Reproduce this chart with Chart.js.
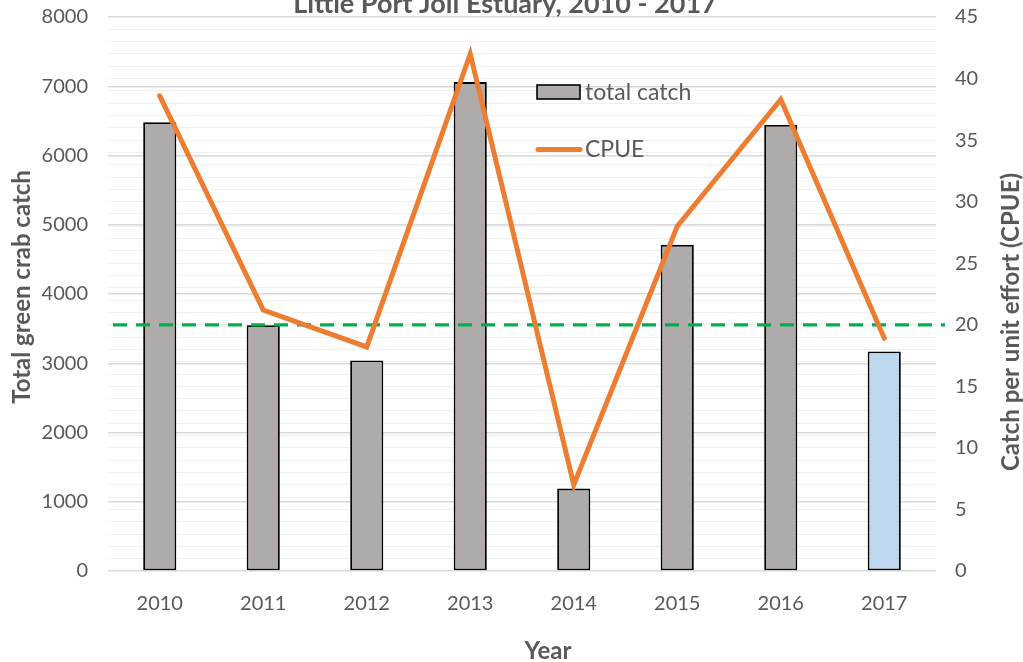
<!DOCTYPE html>
<html>
<head>
<meta charset="utf-8">
<script src="https://cdn.jsdelivr.net/npm/chart.js@4.4.1/dist/chart.umd.min.js"></script>
<style>
  html, body { margin: 0; padding: 0; background: #fff; }
  #wrap { width: 1023px; height: 662px; }
</style>
</head>
<body>
<div id="wrap"><canvas id="chart" width="1023" height="662"></canvas></div>
<script>
// data
const years = ['2010', '2011', '2012', '2013', '2014', '2015', '2016', '2017'];
const totalCatch = [6480, 3550, 3040, 7060, 1190, 4710, 6440, 3170];
const cpue = [38.6, 21.2, 18.2, 42.0, 7.0, 28.0, 38.3, 18.9];
const cpueThreshold = 20;
const catchTicks = [0, 8000, 1000];   // min, max, step
const cpueTicks = [0, 45, 5];

const FONT = "Lato, 'Open Sans', sans-serif";
const TEXT = '#595959';
const barColors = years.map((y, i) => i === years.length - 1 ? '#BDD7EE' : '#AFABAB');

// green dashed reference line, drawn after the bars but under the CPUE line
const thresholdLine = {
  id: 'thresholdLine',
  afterDatasetDraw(chart, args) {
    if (args.index !== 0) return;
    const ctx = chart.ctx;
    const area = chart.chartArea;
    const y = chart.scales.y1.getPixelForValue(cpueThreshold);
    ctx.save();
    ctx.strokeStyle = '#00B050';
    ctx.lineWidth = 3.2;
    ctx.setLineDash([14, 9]);
    ctx.beginPath();
    ctx.moveTo(area.left + 5, y);
    ctx.lineTo(area.right + 9, y);
    ctx.stroke();
    ctx.restore();
  }
};

// titles and the legend that sits inside the plot
const labelsPlugin = {
  id: 'labelsPlugin',
  afterDraw(chart) {
    const ctx = chart.ctx;
    const ds = chart.data.datasets;
    ctx.save();
    ctx.fillStyle = TEXT;

    ctx.font = 'bold 27px ' + FONT;
    ctx.textAlign = 'center';
    ctx.textBaseline = 'alphabetic';
    ctx.fillText('Little Port Joli Estuary, 2010 - 2017', 505, 13);

    ctx.font = 'bold 24px ' + FONT;
    ctx.textBaseline = 'middle';
    ctx.fillText('Year', 548, 651);

    ctx.save();
    ctx.translate(22, 287);
    ctx.rotate(-Math.PI / 2);
    ctx.fillText('Total green crab catch', 0, 0);
    ctx.restore();

    ctx.save();
    ctx.translate(1011, 322);
    ctx.rotate(-Math.PI / 2);
    ctx.fillText('Catch per unit effort (CPUE)', 0, 0);
    ctx.restore();

    // legend
    ctx.fillStyle = '#AFABAB';
    ctx.fillRect(537, 85, 43, 14);
    ctx.strokeStyle = '#000';
    ctx.lineWidth = 1.6;
    ctx.strokeRect(537, 85, 43, 14);

    ctx.strokeStyle = ds[1].borderColor;
    ctx.lineWidth = 5;
    ctx.lineCap = 'round';
    ctx.beginPath();
    ctx.moveTo(538, 149.5);
    ctx.lineTo(580, 149.5);
    ctx.stroke();

    ctx.fillStyle = TEXT;
    ctx.font = '23px ' + FONT;
    ctx.textAlign = 'left';
    ctx.textBaseline = 'alphabetic';
    ctx.fillText(ds[0].label, 585, 100);
    ctx.fillText(ds[1].label, 585, 157);
    ctx.restore();
  }
};

function fixWidth(w) {
  return s => {
    s.width = w;
    s.paddingTop = 0;
    s.paddingBottom = 0;
  };
}

new Chart(document.getElementById('chart'), {
  type: 'bar',
  data: {
    labels: years,
    datasets: [
      {
        label: 'total catch',
        data: totalCatch,
        backgroundColor: barColors,
        borderColor: '#000',
        borderWidth: 1.8,
        borderSkipped: false,
        barPercentage: 0.32,
        categoryPercentage: 1,
        yAxisID: 'y',
        order: 2
      },
      {
        type: 'line',
        label: 'CPUE',
        data: cpue,
        borderColor: '#ED7D31',
        borderWidth: 5,
        borderCapStyle: 'round',
        pointRadius: 0,
        tension: 0,
        yAxisID: 'y1',
        order: 1
      }
    ]
  },
  options: {
    responsive: false,
    animation: false,
    devicePixelRatio: 1,
    layout: { padding: { top: 17, right: 0, left: 0, bottom: 0 } },
    plugins: {
      legend: { display: false },
      title: { display: false },
      tooltip: { enabled: false }
    },
    scales: {
      x: {
        grid: { display: false, drawTicks: false },
        border: { display: false },
        ticks: { font: { family: FONT, size: 20 }, color: TEXT, padding: 21 },
        afterFit(s) { s.height = 91; s.paddingLeft = 0; s.paddingRight = 0; }
      },
      y: {
        position: 'left',
        min: catchTicks[0],
        max: catchTicks[1],
        ticks: {
          stepSize: catchTicks[2],
          font: { family: FONT, size: 20 },
          color: TEXT,
          padding: 20,
          callback: v => String(v)
        },
        grid: { color: '#D9D9D9', lineWidth: 1.5, drawTicks: false },
        border: { display: false },
        afterFit: fixWidth(108)
      },
      y1: {
        position: 'right',
        min: cpueTicks[0],
        max: cpueTicks[1],
        ticks: {
          stepSize: 1,
          autoSkip: false,
          font: { family: FONT, size: 20 },
          color: TEXT,
          padding: 19,
          callback: v => v % cpueTicks[2] === 0 ? String(v) : ''
        },
        grid: {
          drawTicks: false,
          lineWidth: 1,
          color: c => (c.tick && (c.tick.value === cpueTicks[0] || c.tick.value === cpueTicks[1])) ? 'rgba(0,0,0,0)' : '#EFEFEF'
        },
        border: { display: false },
        afterFit: fixWidth(87)
      }
    }
  },
  plugins: [thresholdLine, labelsPlugin]
});
</script>
</body>
</html>
